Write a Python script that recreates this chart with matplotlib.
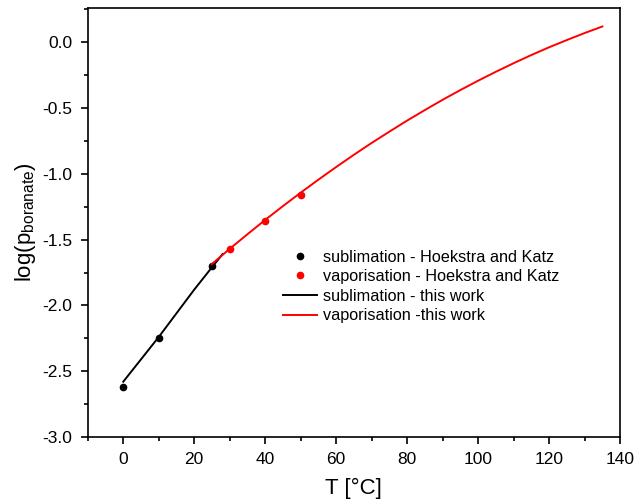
import numpy as np
import matplotlib
matplotlib.use("Agg")
import matplotlib.pyplot as plt
from matplotlib.ticker import MultipleLocator

plt.rcParams['font.family'] = ['Liberation Sans', 'DejaVu Sans']
plt.rcParams['mathtext.fontset'] = 'custom'
plt.rcParams['mathtext.rm'] = 'Liberation Sans'

# literature data points
subl_T = [0, 10, 25]
subl_logp = [-2.62, -2.25, -1.70]
vap_T = [30, 40, 50]
vap_logp = [-1.57, -1.36, -1.16]

# fitted curves
fit_subl_T = [0, 5, 10, 15, 20, 25, 28]
fit_subl_logp = [-2.58, -2.41, -2.24, -2.06, -1.88, -1.71, -1.61]
fit_vap_T = [25, 30, 35, 40, 45, 50, 55, 60, 65, 70, 75, 80, 85, 90, 95,
             100, 105, 110, 115, 120, 125, 130, 135]
fit_vap_logp = [-1.685, -1.570, -1.459, -1.350, -1.245, -1.143, -1.044, -0.948,
                -0.855, -0.765, -0.679, -0.595, -0.515, -0.437, -0.363, -0.292,
                -0.224, -0.159, -0.097, -0.038, 0.017, 0.070, 0.120]

fig = plt.figure(figsize=(6.36, 5.04), dpi=100)
ax = fig.add_axes([0.138, 0.133, 0.837, 0.851])

ax.plot(subl_T, subl_logp, 'o', color='black', ms=4.5, label='sublimation - Hoekstra and Katz')
ax.plot(vap_T, vap_logp, 'o', color='red', ms=4.5, label='vaporisation - Hoekstra and Katz')
ax.plot(fit_subl_T, fit_subl_logp, '-', color='black', lw=1.4, label='sublimation - this work')
ax.plot(fit_vap_T, fit_vap_logp, '-', color='red', lw=1.4, label='vaporisation -this work')

ax.set_xlim(-10, 140)
ax.set_ylim(-3.0, 0.26)
ax.xaxis.set_major_locator(MultipleLocator(20))
ax.xaxis.set_minor_locator(MultipleLocator(10))
ax.yaxis.set_major_locator(MultipleLocator(0.5))
ax.yaxis.set_minor_locator(MultipleLocator(0.25))
ax.yaxis.set_major_formatter(plt.FuncFormatter(lambda v, p: f"{v:.1f}"))

ax.tick_params(which='both', direction='out', top=False, right=False, labelsize=12.5, width=1.2)
ax.tick_params(which='major', length=5, pad=6)
ax.tick_params(which='minor', length=3)
for s in ax.spines.values():
    s.set_linewidth(1.2)

ax.set_xlabel('T [°C]', fontsize=16, labelpad=8)
ax.set_ylabel(r'log(p$_{\mathregular{boranate}}$)', fontsize=16, labelpad=3)

ax.legend(loc='upper left', bbox_to_anchor=(0.355, 0.452), frameon=False, fontsize=11.7,
          handlelength=2.1, handletextpad=0.37, labelspacing=0.28, borderaxespad=0)

fig.savefig('out.png', dpi=100)
